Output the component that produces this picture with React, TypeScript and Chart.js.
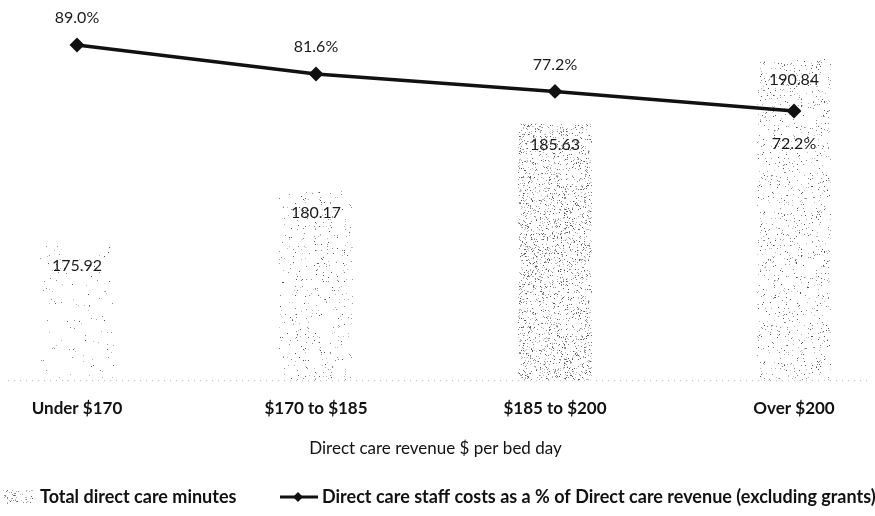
import React, { useEffect, useRef } from "react";
import { Chart, registerables } from "chart.js";

Chart.register(...registerables);

const categories = ["Under $170", "$170 to $185", "$185 to $200", "Over $200"];
const minutes = [175.92, 180.17, 185.63, 190.84];
const staffPct = [89.0, 81.6, 77.2, 72.2];
const speckleDensity = [0.012, 0.03, 0.12, 0.05];
const barLabel = "Total direct care minutes";
const lineLabel = "Direct care staff costs as a % of Direct care revenue (excluding grants)";
const axisTitle = "Direct care revenue $ per bed day";

const FONT = "Lato, 'Open Sans', 'Noto Sans', sans-serif";

function makeSpeckle(density: number, seed: number): CanvasPattern | string {
  const size = 150;
  const c = document.createElement("canvas");
  c.width = size;
  c.height = size;
  const ctx = c.getContext("2d");
  if (!ctx) return "#eee";
  let s = seed >>> 0;
  const rnd = () => {
    s = (s + 0x6d2b79f5) >>> 0;
    let t = s;
    t = Math.imul(t ^ (t >>> 15), t | 1);
    t ^= t + Math.imul(t ^ (t >>> 7), t | 61);
    return ((t ^ (t >>> 14)) >>> 0) / 4294967296;
  };
  for (let y = 0; y < size; y++) {
    for (let x = 0; x < size; x++) {
      if (rnd() < density) {
        const r = rnd();
        ctx.fillStyle = r < 0.25 ? "#555" : r < 0.6 ? "#8a8a8a" : "#b8b8b8";
        ctx.fillRect(x, y, 1, 1);
      }
    }
  }
  const p = ctx.createPattern(c, "repeat");
  return p || "#eee";
}

export default function App() {
  const ref = useRef<HTMLCanvasElement | null>(null);

  useEffect(() => {
    const canvas = ref.current;
    if (!canvas) return;
    const patterns = speckleDensity.map((d, i) => makeSpeckle(d, 1234 + i * 977));
    const legendPattern = makeSpeckle(0.08, 4321);

    const labelPlugin = {
      id: "labels",
      afterDatasetsDraw(chart: any) {
        const ctx = chart.ctx;
        ctx.save();
        ctx.fillStyle = "#1a1a1a";
        ctx.textAlign = "center";
        ctx.textBaseline = "middle";
        ctx.font = `16px ${FONT}`;
        const barMeta = chart.getDatasetMeta(1);
        barMeta.data.forEach((el: any, i: number) => {
          ctx.fillText(minutes[i].toFixed(2), el.x, el.y + 21);
        });
        const lineMeta = chart.getDatasetMeta(0);
        lineMeta.data.forEach((el: any, i: number) => {
          const off = i === staffPct.length - 1 ? 33 : -27;
          ctx.fillText(staffPct[i].toFixed(1) + "%", el.x, el.y + off);
        });
        // dotted baseline
        const yb = chart.scales.y.bottom;
        ctx.strokeStyle = "#b5b5b5";
        ctx.lineWidth = 1;
        ctx.setLineDash([1, 5]);
        ctx.beginPath();
        ctx.moveTo(8, yb + 0.5);
        ctx.lineTo(868, yb + 0.5);
        ctx.stroke();
        ctx.setLineDash([]);
        ctx.restore();
      },
      afterDraw(chart: any) {
        const ctx = chart.ctx;
        ctx.save();
        const ly = 497;
        ctx.fillStyle = legendPattern as any;
        ctx.fillRect(3, ly - 7, 30, 14);
        ctx.fillStyle = "#111";
        ctx.font = `bold 18px ${FONT}`;
        ctx.textAlign = "left";
        ctx.textBaseline = "middle";
        ctx.fillText(barLabel, 40, ly);
        ctx.strokeStyle = "#111";
        ctx.lineWidth = 3;
        ctx.beginPath();
        ctx.moveTo(280, ly);
        ctx.lineTo(318, ly);
        ctx.stroke();
        ctx.beginPath();
        ctx.moveTo(298, ly - 5);
        ctx.lineTo(303, ly);
        ctx.lineTo(298, ly + 5);
        ctx.lineTo(293, ly);
        ctx.closePath();
        ctx.fill();
        ctx.fillText(lineLabel, 322, ly);
        ctx.restore();
      },
    };

    const chart = new Chart(canvas, {
      type: "bar",
      data: {
        labels: categories,
        datasets: [
          {
            type: "line",
            label: lineLabel,
            data: staffPct,
            yAxisID: "y1",
            borderColor: "#111",
            backgroundColor: "#111",
            borderWidth: 3.5,
            pointStyle: "rectRot",
            pointRadius: 5,
            pointBackgroundColor: "#111",
            pointBorderColor: "#111",
            tension: 0,
            order: 0,
            clip: false,
          } as any,
          {
            type: "bar",
            label: barLabel,
            data: minutes,
            yAxisID: "y",
            backgroundColor: patterns as any,
            borderWidth: 0,
            barThickness: 73,
            order: 1,
            clip: { left: 60, right: 60, top: 40, bottom: 0 },
          } as any,
        ],
      },
      options: {
        responsive: false,
        animation: false,
        layout: { padding: { left: 77, right: 81, top: 30, bottom: 57 } },
        plugins: {
          legend: { display: false },
          tooltip: { enabled: false },
        },
        scales: {
          x: {
            type: "category",
            offset: false,
            grid: { display: false, drawTicks: false },
            border: { display: false },
            ticks: {
              padding: 18,
              color: "#111",
              maxRotation: 0,
              autoSkip: false,
              font: { family: FONT, size: 17, weight: "bold" },
            },
            title: {
              display: true,
              text: axisTitle,
              color: "#111",
              font: { family: FONT, size: 17 },
              padding: { top: 2, bottom: 0 },
            },
          },
          y: { display: false, min: 165, max: 193.2 },
          y1: { display: false, position: "right", min: 3.8, max: 92.8 },
        },
      } as any,
      plugins: [labelPlugin],
    });
    return () => chart.destroy();
  }, []);

  return (
    <div style={{ position: "absolute", left: 0, top: 0, width: 875, height: 516, background: "#fff" }}>
      <canvas ref={ref} width={875} height={516} style={{ display: "block", width: 875, height: 516 }} />
    </div>
  );
}
